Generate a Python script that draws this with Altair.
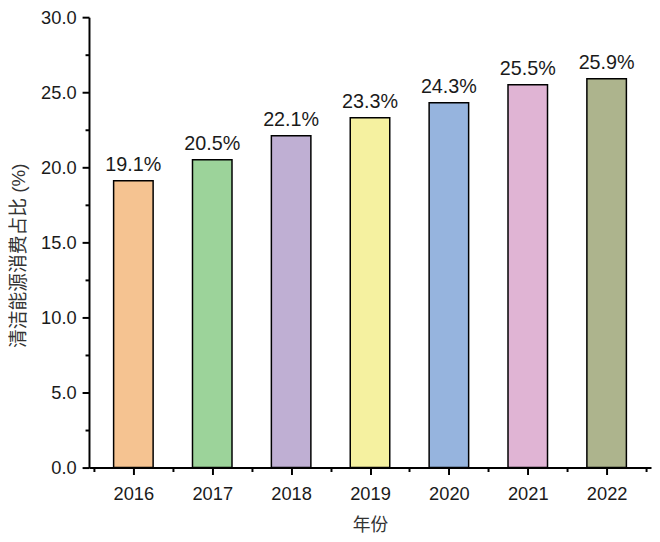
import altair as alt
import pandas as pd

years = [2016, 2017, 2018, 2019, 2020, 2021, 2022]
shares = [19.1, 20.5, 22.1, 23.3, 24.3, 25.5, 25.9]
bar_colors = ["#F5C391", "#9CD39A", "#BFAFD3", "#F5F1A0", "#96B4DE", "#E0B4D4", "#ADB48D"]
y_major = [0, 5, 10, 15, 20, 25, 30]
y_minor = [2.5, 7.5, 12.5, 17.5, 22.5, 27.5]
x_minor = [2015.5, 2016.5, 2017.5, 2018.5, 2019.5, 2020.5, 2021.5, 2022.5]

df = pd.DataFrame({"year": years, "share": shares})

W, H = 569, 456
LATIN = "Liberation Sans"
CJK = "Liberation Sans, Noto Sans CJK SC"

xscale = alt.Scale(domain=[2015.5, 2022.5], nice=False, zero=False)
yscale = alt.Scale(domain=[0, 30], nice=False)

bars = alt.Chart(df).mark_bar(width=40, stroke="black", strokeWidth=1.5).encode(
    x=alt.X("year:Q", scale=xscale, axis=alt.Axis(
        values=years, format="d", title="年份", orient="bottom",
        tickSize=7, tickWidth=2, tickColor="black",
        domainWidth=2, domainColor="black",
        labelFont=LATIN, labelFontSize=18.5, labelColor="#1a1a1a", labelPadding=10,
        titleFont=CJK, titleFontSize=18, titleFontWeight="normal", titleColor="#333333",
        titleX=W / 2, titleY=59, titleAlign="center", titleBaseline="middle",
        grid=False, labelFlush=False)),
    y=alt.Y("share:Q", scale=yscale, axis=alt.Axis(
        values=y_major, format=".1f", title="清洁能源消费占比 (%)", orient="left",
        tickSize=7, tickWidth=2, tickColor="black",
        domainWidth=2, domainColor="black",
        labelFont=LATIN, labelFontSize=18.5, labelColor="#1a1a1a", labelPadding=6,
        titleFont=CJK, titleFontSize=19, titleFontWeight="normal", titleColor="#333333",
        titleX=-71, titleY=241, titleAngle=270, titleAlign="center", titleBaseline="middle",
        grid=False, labelFlush=False)),
    color=alt.Color("year:N", scale=alt.Scale(domain=years, range=bar_colors), legend=None),
)

labels = alt.Chart(df).transform_calculate(
    label="format(datum.share, '.1f') + '%'"
).mark_text(dy=-10, baseline="alphabetic", align="center", font=LATIN, fontSize=20, color="#1a1a1a").encode(
    x=alt.X("year:Q", scale=xscale, axis=alt.Axis(
        values=x_minor, labels=False, domain=False, title=None, orient="bottom",
        tickSize=4, tickWidth=2, tickColor="black", grid=False)),
    y=alt.Y("share:Q", scale=yscale, axis=alt.Axis(
        values=y_minor, labels=False, domain=False, title=None, orient="left",
        tickSize=4, tickWidth=2, tickColor="black", grid=False)),
    text="label:N",
)

chart = alt.layer(bars, labels).resolve_axis(x="independent", y="independent").properties(
    width=W, height=H,
    autosize=alt.AutoSizeParams(type="none"),
    padding={"left": 82, "top": 6, "right": 1, "bottom": 67},
).configure_view(stroke=None)

chart.save("out.html", embed_options={"renderer": "svg", "actions": False})
